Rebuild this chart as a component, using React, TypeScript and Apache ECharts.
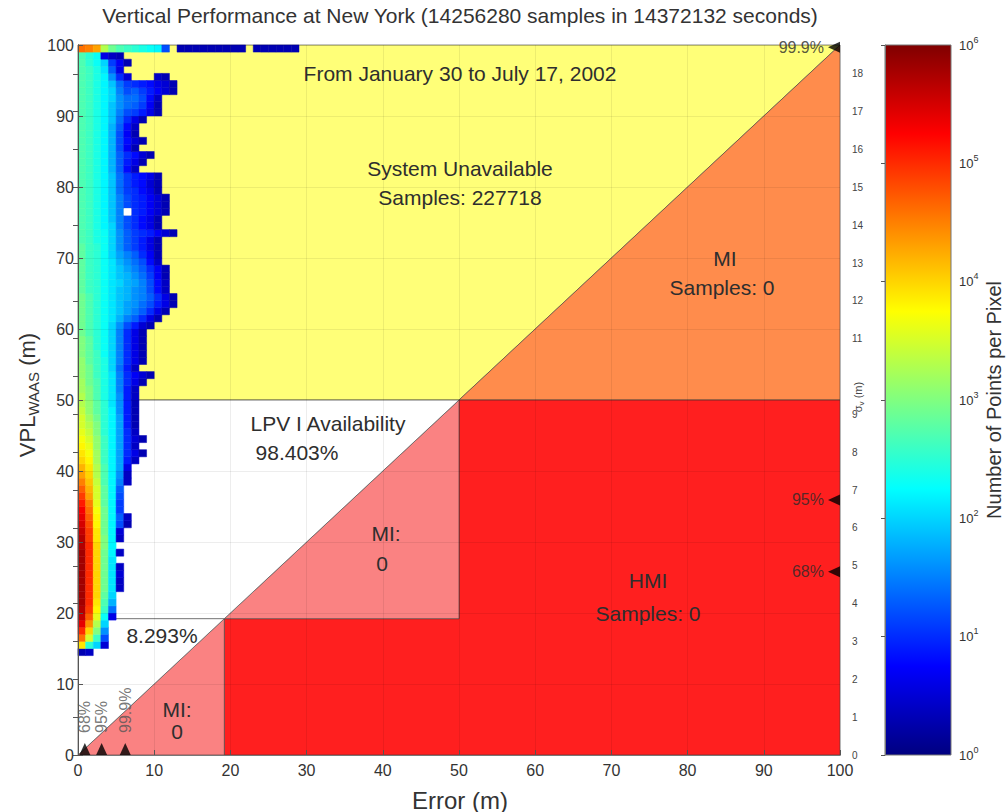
import React, { useEffect, useRef } from 'react';
import * as echarts from 'echarts';

// ---- thresholds / scales ----
const VAL = 50; // vertical alert limit (m)
const LPV_CORNER = 19.2; // lower availability boundary (m)
const SIGMA_K = 5.33; // VPL / sigma ratio for right axis
const AXIS_MAX = 100;

// ---- 2D histogram: log10(count) per 1 m x 1 m cell, rows start at VPL 14 m, columns = error 0,1,2... m ----
const HEAT_VPL_START = 14;
const HEAT_LOG_COUNTS: (number | null)[][] = [
  [0.3, 0.4], // 14
  [3.9, 2.5, 2.0, 0.5], // 15
  [4.6, 3.5, 2.6, 1.2], // 16
  [5.0, 4.0, 3.0, 1.6], // 17
  [5.4, 4.4, 3.3, 2.0], // 18
  [5.6, 4.7, 3.6, 2.3, 0.6], // 19
  [5.7, 4.9, 3.8, 2.6, 1.4], // 20
  [5.8, 5.0, 3.9, 2.7, 1.8], // 21
  [5.8, 5.0, 4.0, 2.8, 2.0], // 22
  [5.8, 5.0, 4.0, 2.9, 2.1, 0.4], // 23
  [5.8, 5.0, 4.0, 2.9, 2.1, 0.4], // 24
  [5.8, 5.0, 4.0, 2.9, 2.1, 0.5], // 25
  [5.8, 5.0, 4.0, 2.9, 2.1, 0.4], // 26
  [5.8, 5.0, 4.0, 2.9, 2.1], // 27
  [5.8, 5.0, 4.0, 2.9, 2.2, 0.4], // 28
  [5.7, 5.0, 4.0, 3.0, 2.2], // 29
  [5.7, 4.9, 3.9, 3.0, 2.2, 0.4], // 30
  [5.6, 4.9, 3.9, 2.9, 2.2, 0.5], // 31
  [5.5, 4.8, 3.8, 2.9, 2.2, 1.2, 0.3], // 32
  [5.4, 4.7, 3.8, 2.9, 2.2, 1.3, 0.4], // 33
  [5.3, 4.6, 3.7, 2.9, 2.2, 1.1], // 34
  [5.1, 4.5, 3.6, 2.8, 2.2, 1.1], // 35
  [4.9, 4.3, 3.5, 2.8, 2.2, 1.2], // 36
  [4.7, 4.2, 3.5, 2.8, 2.2, 1.3], // 37
  [4.5, 4.1, 3.4, 2.7, 2.2, 1.5, 0.4], // 38
  [4.3, 4.0, 3.3, 2.7, 2.2, 1.6, 0.4], // 39
  [4.2, 3.9, 3.3, 2.7, 2.2, 1.7, 0.6], // 40
  [4.0, 3.8, 3.2, 2.6, 2.2, 1.7, 0.9, 0.4], // 41
  [3.9, 3.7, 3.2, 2.6, 2.2, 1.7, 1.0, 0.6, 0.3], // 42
  [3.8, 3.6, 3.1, 2.6, 2.2, 1.7, 1.0, 0.4], // 43
  [3.7, 3.5, 3.1, 2.6, 2.2, 1.7, 1.0, 0.5, 0.3], // 44
  [3.6, 3.4, 3.0, 2.5, 2.2, 1.7, 1.0, 0.4], // 45
  [3.5, 3.3, 3.0, 2.5, 2.2, 1.7, 0.9, 0.3], // 46
  [3.5, 3.2, 2.9, 2.5, 2.2, 1.7, 0.9, 0.3], // 47
  [3.4, 3.1, 2.8, 2.5, 2.2, 1.6, 0.9, 0.3], // 48
  [3.3, 3.1, 2.8, 2.5, 2.1, 1.6, 0.9, 0.3], // 49
  [3.3, 3.0, 2.7, 2.4, 2.1, 1.6, 0.9, 0.4], // 50
  [3.2, 3.0, 2.7, 2.4, 2.1, 1.5, 0.9, 0.4], // 51
  [3.2, 2.9, 2.7, 2.4, 2.1, 1.5, 1.0, 0.6, 0.3], // 52
  [3.1, 2.9, 2.6, 2.4, 2.1, 1.5, 1.0, 0.7, 0.5, 0.3], // 53
  [3.1, 2.9, 2.6, 2.4, 2.0, 1.4, 0.9, 0.4], // 54
  [3.1, 2.8, 2.6, 2.4, 2.0, 1.5, 1.0, 0.6, 0.3], // 55
  [3.0, 2.8, 2.6, 2.3, 2.0, 1.5, 1.0, 0.6, 0.3], // 56
  [3.0, 2.8, 2.5, 2.3, 2.0, 1.5, 1.0, 0.6, 0.3], // 57
  [3.0, 2.8, 2.5, 2.3, 2.0, 1.5, 1.0, 0.6, 0.3], // 58
  [2.9, 2.7, 2.5, 2.3, 2.0, 1.5, 1.0, 0.6, 0.3], // 59
  [2.9, 2.7, 2.5, 2.3, 2.0, 1.6, 1.2, 0.9, 0.5, 0.3], // 60
  [2.9, 2.7, 2.5, 2.3, 2.1, 1.8, 1.5, 1.3, 1.0, 0.6, 0.3], // 61
  [2.9, 2.7, 2.5, 2.3, 2.1, 1.9, 1.7, 1.5, 1.3, 1.0, 0.6, 0.3], // 62
  [2.9, 2.7, 2.5, 2.3, 2.1, 1.9, 1.7, 1.6, 1.4, 1.2, 0.9, 0.6, 0.3], // 63
  [2.9, 2.7, 2.5, 2.3, 2.1, 1.9, 1.8, 1.6, 1.5, 1.3, 1.0, 0.6, 0.3], // 64
  [2.8, 2.6, 2.5, 2.3, 2.1, 1.9, 1.8, 1.6, 1.5, 1.2, 0.8, 0.4], // 65
  [2.8, 2.6, 2.5, 2.3, 2.1, 2.0, 1.8, 1.7, 1.5, 1.2, 0.8, 0.4], // 66
  [2.8, 2.6, 2.5, 2.3, 2.1, 1.9, 1.8, 1.6, 1.4, 1.1, 0.7, 0.3], // 67
  [2.8, 2.6, 2.5, 2.3, 2.1, 1.9, 1.7, 1.5, 1.3, 1.0, 0.7, 0.3], // 68
  [2.8, 2.6, 2.5, 2.3, 2.1, 1.8, 1.6, 1.4, 1.2, 0.8, 0.4], // 69
  [2.8, 2.6, 2.5, 2.3, 2.0, 1.7, 1.5, 1.3, 1.0, 0.7, 0.3], // 70
  [2.8, 2.6, 2.5, 2.3, 2.0, 1.6, 1.3, 1.1, 0.9, 0.6, 0.3], // 71
  [2.7, 2.6, 2.4, 2.3, 2.0, 1.6, 1.3, 1.1, 0.9, 0.6, 0.3], // 72
  [2.7, 2.6, 2.4, 2.3, 2.0, 1.6, 1.3, 1.1, 1.0, 0.9, 0.7, 0.5, 0.3], // 73
  [2.7, 2.6, 2.4, 2.2, 2.0, 1.5, 1.2, 1.0, 0.8, 0.6, 0.3], // 74
  [2.7, 2.6, 2.4, 2.2, 1.9, 1.5, 1.2, 1.0, 0.8, 0.6, 0.3], // 75
  [2.7, 2.6, 2.4, 2.2, 1.9, 1.5, null, 1.0, 0.9, 0.7, 0.5, 0.3], // 76
  [2.7, 2.6, 2.4, 2.2, 1.9, 1.5, 1.2, 1.0, 0.9, 0.7, 0.5, 0.3], // 77
  [2.7, 2.6, 2.4, 2.2, 1.9, 1.5, 1.2, 1.0, 0.9, 0.7, 0.5, 0.3], // 78
  [2.7, 2.6, 2.4, 2.2, 1.9, 1.4, 1.1, 1.0, 0.8, 0.6, 0.3], // 79
  [2.7, 2.6, 2.4, 2.2, 1.9, 1.4, 1.1, 0.9, 0.8, 0.5, 0.3], // 80
  [2.7, 2.6, 2.4, 2.2, 1.9, 1.4, 1.1, 0.9, 0.8, 0.6, 0.3], // 81
  [2.7, 2.6, 2.4, 2.2, 1.8, 1.3, 0.8, 0.4], // 82
  [2.7, 2.6, 2.4, 2.2, 1.8, 1.3, 0.9, 0.6, 0.3], // 83
  [2.7, 2.6, 2.4, 2.2, 1.8, 1.3, 1.0, 0.8, 0.5, 0.3], // 84
  [2.7, 2.6, 2.4, 2.2, 1.8, 1.2, 0.7, 0.3], // 85
  [2.7, 2.6, 2.4, 2.2, 1.8, 1.2, 0.8, 0.5, 0.3], // 86
  [2.7, 2.6, 2.4, 2.2, 1.8, 1.2, 0.7, 0.3], // 87
  [2.7, 2.6, 2.4, 2.2, 1.8, 1.3, 0.8, 0.4], // 88
  [2.7, 2.6, 2.4, 2.2, 1.9, 1.4, 1.0, 0.6, 0.3], // 89
  [2.7, 2.6, 2.4, 2.2, 1.9, 1.5, 1.2, 1.1, 0.9, 0.6, 0.3], // 90
  [2.7, 2.6, 2.4, 2.2, 1.9, 1.6, 1.4, 1.3, 1.1, 0.7, 0.3], // 91
  [2.7, 2.6, 2.4, 2.2, 2.0, 1.6, 1.4, 1.4, 1.2, 0.8, 0.4], // 92
  [2.7, 2.6, 2.4, 2.2, 2.0, 1.5, 1.2, 1.3, 1.1, 0.9, 0.7, 0.5, 0.3], // 93
  [2.7, 2.6, 2.4, 2.2, 1.9, 1.4, 1.1, 1.0, 0.9, 0.8, 0.6, 0.5, 0.3], // 94
  [2.7, 2.6, 2.4, 2.2, 1.6, 1.0, 0.5, null, null, null, 0.4, 0.3], // 95
  [2.7, 2.6, 2.4, 2.1, 1.3, 0.6], // 96
  [2.7, 2.5, 2.3, 2.0, 1.1, 0.7, 0.3], // 97
  [2.7, 2.5, 2.3, 0.6, 0.4, 0.3], // 98
  [4.6, 4.5, 4.3, 3.3, 2.9, 2.7, 2.6, 2.5, 2.4, 2.3, 2.2, 1.2, null,
    0.3, 0.3, 0.3, 0.3, 0.3, 0.3, 0.3, 0.3, 0.3, null,
    0.3, 0.3, 0.3, 0.3, 0.3, 0.3], // 99 (VPL >= 99, clipped at top)
];
// empty cell inside the data cloud, drawn blank (white) in the original
const HEAT_BLANK_CELLS = [[6, 76]];

// ---- percentile markers ----
const ERROR_PCT_LABELS = ['68%', '95%', '99.9%'];
const ERROR_PCT_VALUES = [0.9, 3.1, 6.2];
const SIGMA_PCT_LABELS = ['68%', '95%', '99.9%'];
const SIGMA_PCT_VALUES = [4.84, 6.74, 18.7];

// ---- colour scale (log10 counts) ----
const COLOR_MIN_EXP = 0;
const COLOR_MAX_EXP = 6;
const JET = ['#000080', '#0000ff', '#0080ff', '#00ffff', '#80ff80', '#ffff00', '#ff8000', '#ff0000', '#800000'];

// ---- region polygons ----
const REGIONS = [
  { fill: '#ffff78', points: [[0, VAL], [VAL, VAL], [AXIS_MAX, AXIS_MAX], [0, AXIS_MAX]] },
  { fill: '#ff8c4c', points: [[VAL, VAL], [AXIS_MAX, VAL], [AXIS_MAX, AXIS_MAX]] },
  { fill: '#ff1f1f', points: [[LPV_CORNER, 0], [AXIS_MAX, 0], [AXIS_MAX, VAL], [VAL, VAL], [VAL, LPV_CORNER], [LPV_CORNER, LPV_CORNER]] },
  { fill: '#fa8282', points: [[0, 0], [LPV_CORNER, 0], [LPV_CORNER, LPV_CORNER]] },
  { fill: '#fa8282', points: [[LPV_CORNER, LPV_CORNER], [VAL, LPV_CORNER], [VAL, VAL]] },
  { fill: '#ffffff', points: [[0, 0], [VAL, VAL], [0, VAL]] },
];
const REGION_LINES = [[[0, LPV_CORNER], [LPV_CORNER, LPV_CORNER]]];

// ---- annotation texts ----
const TITLE = 'Vertical Performance at New York (14256280 samples in 14372132 seconds)';
const ANNOTATIONS = [
  { text: 'From January 30 to July 17, 2002', x: 460, y: 73 },
  { text: 'System Unavailable', x: 460, y: 168 },
  { text: 'Samples: 227718', x: 460, y: 197 },
  { text: 'MI', x: 725, y: 258 },
  { text: 'Samples: 0', x: 722, y: 287 },
  { text: 'LPV I Availability', x: 328, y: 423 },
  { text: '98.403%', x: 297, y: 452 },
  { text: 'MI:', x: 386, y: 533 },
  { text: '0', x: 382, y: 563 },
  { text: 'HMI', x: 648, y: 580 },
  { text: 'Samples: 0', x: 648, y: 613 },
  { text: '8.293%', x: 162, y: 635 },
  { text: 'MI:', x: 177, y: 709 },
  { text: '0', x: 177, y: 731 },
];

const FONT = '"Liberation Sans", Arial, Helvetica, sans-serif';

function buildHeatData() {
  const out: number[][] = [];
  HEAT_LOG_COUNTS.forEach((row, i) => {
    row.forEach((v, j) => {
      if (v !== null) out.push([j, HEAT_VPL_START + i, v]);
    });
  });
  return out;
}

function cellRect(api: any, x: number, y: number) {
  const p0 = api.coord([x, y + 1]);
  const p1 = api.coord([x + 1, y]);
  return { x: p0[0], y: p0[1], width: p1[0] - p0[0], height: p1[1] - p0[1] };
}

export default function App() {
  const ref = useRef<HTMLDivElement>(null);
  useEffect(() => {
    if (!ref.current) return;
    const chart = echarts.init(ref.current, undefined, { renderer: 'svg' });
    const gridL = 78, gridT = 45, gridW = 762, gridH = 710;
    const option: any = {
      animation: false,
      textStyle: { fontFamily: FONT },
      grid: [
        { left: gridL, top: gridT, width: gridW, height: gridH },
        { left: 885, top: gridT, width: 66, height: gridH },
      ],
      xAxis: [
        {
          gridIndex: 0, type: 'value', min: 0, max: AXIS_MAX, interval: 10, position: 'bottom', z: 10,
          axisLine: { show: true, lineStyle: { color: '#555', width: 1 } },
          axisTick: { show: true, inside: true, length: 5, lineStyle: { color: '#555' } },
          axisLabel: { fontSize: 16, color: '#333', margin: 7, fontFamily: FONT },
          splitLine: { show: true, lineStyle: { color: 'rgba(0,0,0,0.07)', width: 1 } },
        },
        {
          gridIndex: 0, type: 'value', min: 0, max: AXIS_MAX, interval: 10, position: 'top', z: 10,
          axisLine: { show: true, lineStyle: { color: '#777', width: 1 } },
          axisTick: { show: false }, axisLabel: { show: false }, splitLine: { show: false },
        },
        { gridIndex: 1, type: 'value', min: 0, max: 1, show: false },
      ],
      yAxis: [
        {
          gridIndex: 0, type: 'value', min: 0, max: AXIS_MAX, interval: 10, position: 'left', z: 10,
          axisLine: { show: true, lineStyle: { color: '#555', width: 1 } },
          axisTick: { show: true, inside: true, length: 5, lineStyle: { color: '#555' } },
          axisLabel: { fontSize: 16, color: '#333', margin: 4, fontFamily: FONT },
          splitLine: { show: true, lineStyle: { color: 'rgba(0,0,0,0.07)', width: 1 } },
        },
        {
          gridIndex: 0, type: 'value', min: 0, max: AXIS_MAX / SIGMA_K, interval: 1, position: 'right', z: 10,
          axisLine: { show: true, lineStyle: { color: '#555', width: 1 } },
          axisTick: { show: true, inside: true, length: 5, lineStyle: { color: '#555' } },
          axisLabel: {
            fontSize: 10, color: '#444', margin: 12, fontFamily: FONT,
            showMaxLabel: false,
            formatter: (v: number) => (Number.isInteger(v) && v !== 10 ? String(v) : ''),
          },
          splitLine: { show: false },
        },
        {
          gridIndex: 1, type: 'log', logBase: 10, min: 1, max: 1e6, position: 'right', z: 10,
          axisLine: { show: true, lineStyle: { color: '#777', width: 1 } },
          axisTick: { show: true, inside: true, length: 4, lineStyle: { color: '#555' } },
          axisLabel: {
            margin: 8, color: '#333', fontFamily: FONT,
            formatter: (v: number) => '{b|10}{s|' + Math.round(Math.log10(v)) + '}',
            rich: {
              b: { fontSize: 13, color: '#333', lineHeight: 20, fontFamily: FONT },
              s: { fontSize: 9, color: '#333', verticalAlign: 'top', fontFamily: FONT },
            },
          },
          splitLine: { show: false },
        },
      ],
      visualMap: {
        type: 'continuous', show: false, min: COLOR_MIN_EXP, max: COLOR_MAX_EXP,
        dimension: 2, seriesIndex: 2, inRange: { color: JET },
      },
      series: [
        {
          type: 'custom', xAxisIndex: 0, yAxisIndex: 0, z: 1,
          data: REGIONS.map((r, i) => [r.points[0][0], r.points[0][1], i]),
          encode: { x: 0, y: 1 },
          silent: true,
          renderItem: (params: any, api: any) => {
            const r = REGIONS[params.dataIndex];
            return {
              type: 'polygon',
              shape: { points: r.points.map((p) => api.coord(p)) },
              style: { fill: r.fill, stroke: 'rgba(60,60,60,0.75)', lineWidth: 0.8 },
            };
          },
        },
        {
          type: 'custom', xAxisIndex: 0, yAxisIndex: 0, z: 2,
          data: REGION_LINES.map((l) => [l[0][0], l[0][1]]),
          encode: { x: 0, y: 1 },
          silent: true,
          renderItem: (params: any, api: any) => ({
            type: 'polyline',
            shape: { points: REGION_LINES[params.dataIndex].map((p) => api.coord(p)) },
            style: { stroke: 'rgba(60,60,60,0.8)', lineWidth: 0.9, fill: 'none' },
          }),
        },
        {
          type: 'custom', xAxisIndex: 0, yAxisIndex: 0, z: 3,
          data: buildHeatData(),
          encode: { x: 0, y: 1 },
          silent: true,
          renderItem: (params: any, api: any) => {
            const c = api.visual('color');
            return {
              type: 'rect',
              shape: cellRect(api, api.value(0), api.value(1)),
              style: { fill: c, stroke: c, lineWidth: 0.5 },
            };
          },
        },
        {
          type: 'custom', xAxisIndex: 0, yAxisIndex: 0, z: 3,
          data: HEAT_BLANK_CELLS,
          encode: { x: 0, y: 1 },
          silent: true,
          renderItem: (params: any, api: any) => ({
            type: 'rect',
            shape: cellRect(api, api.value(0), api.value(1)),
            style: { fill: '#ffffff' },
          }),
        },
        {
          type: 'scatter', xAxisIndex: 0, yAxisIndex: 0, z: 5,
          data: ERROR_PCT_VALUES.map((v, i) => [v, 0, ERROR_PCT_LABELS[i]]),
          symbol: 'triangle', symbolSize: [11, 12], symbolOffset: [0, -6],
          itemStyle: { color: '#000' },
          label: {
            show: true, position: 'top', distance: 10, rotate: 90, align: 'left', verticalAlign: 'middle',
            formatter: (p: any) => p.value[2], fontSize: 16, color: '#555', fontFamily: FONT,
          },
          silent: true,
        },
        {
          type: 'scatter', xAxisIndex: 0, yAxisIndex: 1, z: 5,
          data: SIGMA_PCT_VALUES.map((v, i) => [AXIS_MAX, v, SIGMA_PCT_LABELS[i]]),
          symbol: 'triangle', symbolSize: [11, 12], symbolRotate: 90, symbolOffset: [-6, 0],
          itemStyle: { color: '#000' },
          label: {
            show: true, position: 'left', distance: 4,
            formatter: (p: any) => p.value[2], fontSize: 16, color: '#2a2a2a', fontFamily: FONT,
          },
          silent: true,
        },
        {
          type: 'custom', xAxisIndex: 2, yAxisIndex: 2, z: 2,
          data: [[0, 1]],
          encode: { x: 0, y: 1 },
          silent: true,
          renderItem: (params: any, api: any) => {
            const top = api.coord([0, Math.pow(10, COLOR_MAX_EXP)]);
            const bot = api.coord([1, Math.pow(10, COLOR_MIN_EXP)]);
            return {
              type: 'rect',
              shape: { x: top[0], y: top[1], width: bot[0] - top[0], height: bot[1] - top[1] },
              style: {
                fill: new echarts.graphic.LinearGradient(0, 1, 0, 0,
                  JET.map((c, i) => ({ offset: i / (JET.length - 1), color: c }))),
                stroke: '#777', lineWidth: 1,
              },
            };
          },
        },
      ],
      graphic: [
        {
          type: 'text', x: 460, y: 15, z: 20,
          style: { text: TITLE, fontSize: 21, fill: '#333', align: 'center', verticalAlign: 'middle', fontFamily: FONT },
        },
        ...ANNOTATIONS.map((a) => ({
          type: 'text', x: a.x, y: a.y, z: 20, silent: true,
          style: { text: a.text, fontSize: 21, fill: '#2e2e2e', align: 'center', verticalAlign: 'middle', fontFamily: FONT },
        })),
        {
          type: 'text', x: 460, y: 800, z: 20,
          style: { text: 'Error (m)', fontSize: 24, fill: '#333', align: 'center', verticalAlign: 'middle', fontFamily: FONT },
        },
        {
          type: 'text', x: 27, y: 395, rotation: Math.PI / 2, z: 20,
          style: {
            text: '{a|VPL}{b|WAAS}{a| (m)}', align: 'center', verticalAlign: 'middle', fontFamily: FONT,
            rich: {
              a: { fontSize: 22, fill: '#333', lineHeight: 28, fontFamily: FONT },
              b: { fontSize: 15, fill: '#333', verticalAlign: 'bottom', fontFamily: FONT },
            },
          },
        },
        {
          type: 'text', x: 858, y: 397, rotation: Math.PI / 2, z: 20,
          style: {
            text: '{a|σ}{b|v}{a| (m)}', align: 'center', verticalAlign: 'middle', fontFamily: FONT,
            rich: {
              a: { fontSize: 11, fill: '#444', lineHeight: 14, fontFamily: FONT },
              b: { fontSize: 8, fill: '#444', verticalAlign: 'bottom', fontFamily: FONT },
            },
          },
        },
        {
          type: 'text', x: 994, y: 400, rotation: Math.PI / 2, z: 20,
          style: { text: 'Number of Points per Pixel', fontSize: 20, fill: '#333', align: 'center', verticalAlign: 'middle', fontFamily: FONT },
        },
      ],
    };
    chart.setOption(option);
    return () => chart.dispose();
  }, []);
  return <div ref={ref} style={{ position: 'absolute', left: 0, top: 0, width: 1006, height: 812 }} />;
}
